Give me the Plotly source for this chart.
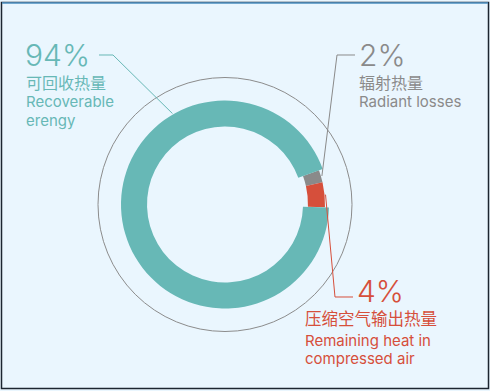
import math
import plotly.graph_objects as go

# Heat balance of an air compressor
labels = ["辐射热量", "压缩空气输出热量", "可回收热量"]
labels_en = [["Radiant losses"], ["Remaining heat in", "compressed air"], ["Recoverable", "erengy"]]
values = [2, 4, 94]
colors = ["#8a8a8a", "#d64f3b", "#67b8b6"]
start_angle = 70  # degrees clockwise from 12 o'clock

W, H = 490, 391
CX, CY = 225, 204.5          # ring centre, px
R_WIDE = (78, 104)           # inner / outer radius of the recoverable arc
R_THIN = (83, 100)           # inner / outer radius of the loss arcs
R_FRAME = 127                # thin surrounding circle
BG = "#eaf6fe"
TRANSPARENT = "rgba(0,0,0,0)"


def px(x):
    return x / W


def py(y):
    return 1 - y / H


def domain(r):
    return dict(x=[px(CX - r), px(CX + r)], y=[py(CY + r), py(CY - r)])


fig = go.Figure()

# loss slices on the narrower ring
fig.add_trace(go.Pie(
    labels=labels, values=values, sort=False, direction="clockwise",
    rotation=start_angle, hole=R_THIN[0] / R_THIN[1],
    domain=domain(R_THIN[1]), textinfo="none", hoverinfo="label+percent",
    marker=dict(colors=[colors[0], colors[1], TRANSPARENT], line=dict(width=0)),
    showlegend=False,
))
# recoverable share on the wider ring
fig.add_trace(go.Pie(
    labels=labels, values=values, sort=False, direction="clockwise",
    rotation=start_angle, hole=R_WIDE[0] / R_WIDE[1],
    domain=domain(R_WIDE[1]), textinfo="none", hoverinfo="label+percent",
    marker=dict(colors=[TRANSPARENT, TRANSPARENT, colors[2]], line=dict(width=0)),
    showlegend=False,
))

# mid angle of each slice, clockwise from 12 o'clock
total = sum(values)
mids, acc = [], start_angle
for v in values:
    span = v / total * 360
    mids.append(acc + span / 2)
    acc += span


def ring_point(angle_deg, r):
    a = math.radians(angle_deg)
    return CX + r * math.sin(a), CY - r * math.cos(a)


shapes = []
# surrounding thin circle
shapes.append(dict(type="circle", xref="paper", yref="paper",
                   x0=px(CX - R_FRAME), x1=px(CX + R_FRAME),
                   y0=py(CY + R_FRAME), y1=py(CY - R_FRAME),
                   line=dict(color="#8c8c8c", width=1)))


def leader(p_end, elbow, p_label, color):
    pts = [p_label, elbow, p_end]
    path = "M " + " L ".join(f"{px(x):.5f},{py(y):.5f}" for x, y in pts)
    shapes.append(dict(type="path", xref="paper", yref="paper", path=path,
                       line=dict(color=color, width=1)))


leader(ring_point(mids[0], R_THIN[1] + 1), (337, 55), (355, 55), colors[0])
leader(ring_point(mids[1], R_THIN[1] + 1), (335, 297), (353, 297), colors[1])
leader(ring_point(330, R_WIDE[1] + 1), (113, 55), (99, 55), colors[2])

# frame
shapes.append(dict(type="rect", xref="paper", yref="paper",
                   x0=px(1.5), x1=px(488.5), y0=py(388.5), y1=py(2.5),
                   line=dict(color="#1c2530", width=1.5)))
shapes.append(dict(type="line", xref="paper", yref="paper",
                   x0=px(2), x1=px(488), y0=py(3), y1=py(3),
                   line=dict(color="#5b9fd0", width=1.5)))

LAT = "Inter, 'Noto Sans', sans-serif"
CJK = "Inter, 'Noto Sans CJK SC', sans-serif"

annotations = []


def text(x, y_top, s, color, size, family, weight):
    annotations.append(dict(x=px(x), y=py(y_top), xref="paper", yref="paper",
                            text=s, showarrow=False, xanchor="left", yanchor="top",
                            borderpad=0, borderwidth=0,
                            font=dict(family=family, size=size, color=color, weight=weight)))


pct = [f"{v}%" for v in values]

# recoverable (upper left)
text(25, 36.5, pct[2], colors[2], 30, LAT, 300)
text(26, 73, labels[2], colors[2], 16, CJK, 400)
text(26, 92.4, labels_en[2][0], colors[2], 15, LAT, 400)
text(26, 110.6, labels_en[2][1], colors[2], 15, LAT, 400)

# radiant (upper right)
text(358.5, 36.5, pct[0], colors[0], 30, LAT, 300)
text(359, 73, labels[0], colors[0], 16, CJK, 400)
text(359, 92.4, labels_en[0][0], colors[0], 15, LAT, 400)

# compressed air (lower right)
text(357, 272.7, pct[1], colors[1], 30, LAT, 300)
text(305, 309.2, labels[1], colors[1], 16.5, CJK, 400)
text(305, 330.5, labels_en[1][0], colors[1], 15, LAT, 400)
text(305, 348.8, labels_en[1][1], colors[1], 15, LAT, 400)

fig.update_layout(
    width=W, height=H, margin=dict(l=0, r=0, t=0, b=0),
    paper_bgcolor=BG, plot_bgcolor=BG,
    shapes=shapes, annotations=annotations,
)

fig.write_html("out.html")
